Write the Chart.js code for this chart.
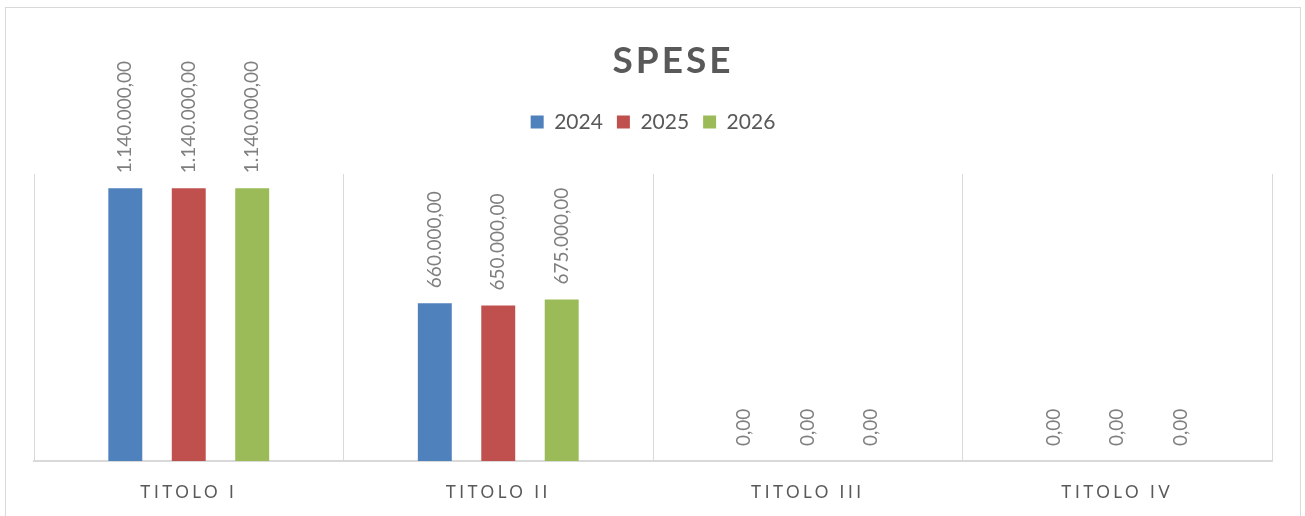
<!DOCTYPE html>
<html>
<head>
<meta charset="utf-8">
<script src="https://cdn.jsdelivr.net/npm/chart.js@4/dist/chart.umd.min.js"></script>
<style>
  html, body { margin: 0; padding: 0; background: #fff; }
  #wrap { width: 1305px; height: 516px; position: relative; }
</style>
</head>
<body>
<div id="wrap"><canvas id="chartSpese"></canvas></div>
<script>
// data
const categories = ['TITOLO I', 'TITOLO II', 'TITOLO III', 'TITOLO IV'];
const years = ['2024', '2025', '2026'];
const spese2024 = [1140000, 660000, 0, 0];
const spese2025 = [1140000, 650000, 0, 0];
const spese2026 = [1140000, 675000, 0, 0];
const yMax = 1200000;

const colours = ['#4F81BD', '#C0504D', '#9BBB59'];

function fmtIt(v) {
  const parts = v.toFixed(2).split('.');
  return parts[0].replace(/\B(?=(\d{3})+(?!\d))/g, '.') + ',' + parts[1];
}

Chart.defaults.font.family = 'Lato';
Chart.defaults.color = '#595959';

// outer frame, letter spacing, value labels
const speseExtras = {
  id: 'speseExtras',
  afterInit(chart) {
    const tb = chart.titleBlock;
    const origDraw = tb.draw;
    tb.draw = function () {
      const c = this.ctx;
      c.save();
      c.letterSpacing = '3px';
      c.translate(20, 0);
      origDraw.apply(this, arguments);
      c.restore();
    };
    const lg = chart.legend;
    const origFit = lg.fit;
    lg.fit = function () {
      origFit.apply(this, arguments);
      this.height += 31.6;
    };
  },
  beforeDraw(chart) {
    const ctx = chart.ctx;
    ctx.save();
    ctx.strokeStyle = '#d9d9d9';
    ctx.lineWidth = 1;
    ctx.strokeRect(5.5, 7.5, 1295, 600);
    ctx.restore();
    const sx = chart.scales.x;
    if (!sx._spaced) {
      const o = sx.drawLabels;
      sx.drawLabels = function (ca) {
        this.ctx.save();
        this.ctx.letterSpacing = '3.5px';
        o.call(this, ca);
        this.ctx.restore();
      };
      sx._spaced = true;
    }
  },
  afterDatasetsDraw(chart) {
    const ctx = chart.ctx;
    ctx.save();
    ctx.font = '19px Lato';
    ctx.fillStyle = '#7f7f7f';
    ctx.textAlign = 'left';
    ctx.textBaseline = 'middle';
    chart.data.datasets.forEach((ds, i) => {
      chart.getDatasetMeta(i).data.forEach((bar, j) => {
        ctx.save();
        ctx.translate(bar.x, bar.y - 15);
        ctx.rotate(-Math.PI / 2);
        ctx.fillText(fmtIt(ds.data[j]), 0, 0);
        ctx.restore();
      });
    });
    ctx.restore();
  }
};

const chartSpese = new Chart(document.getElementById('chartSpese'), {
  type: 'bar',
  data: {
    labels: categories,
    datasets: [
      { label: years[0], data: spese2024, backgroundColor: colours[0] },
      { label: years[1], data: spese2025, backgroundColor: colours[1] },
      { label: years[2], data: spese2026, backgroundColor: colours[2] }
    ]
  },
  options: {
    responsive: true,
    maintainAspectRatio: false,
    animation: false,
    datasets: { bar: { categoryPercentage: 0.615, barPercentage: 0.535 } },
    layout: { padding: { top: 0, left: 34, right: 33, bottom: -7.4 } },
    scales: {
      y: { display: false, min: 0, max: yMax },
      x: {
        grid: { color: '#d9d9d9', lineWidth: 1, drawTicks: false },
        border: { color: '#d9d9d9', width: 2 },
        ticks: { padding: 21, color: '#595959', font: { size: 17 } }
      }
    },
    plugins: {
      title: {
        display: true,
        text: 'SPESE',
        color: '#595959',
        font: { size: 37, weight: 'bold' },
        padding: { top: 39, bottom: 14 }
      },
      legend: {
        display: true,
        labels: { boxWidth: 13, boxHeight: 13, padding: 14, color: '#595959', font: { size: 21 } }
      },
      tooltip: { enabled: false }
    }
  },
  plugins: [speseExtras]
});
</script>
</body>
</html>
